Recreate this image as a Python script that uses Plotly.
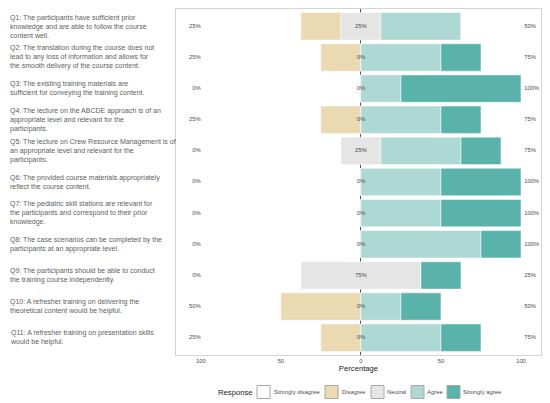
import plotly.graph_objects as go

# Likert responses (percent of respondents)
questions = ["Q1", "Q2", "Q3", "Q4", "Q5", "Q6", "Q7", "Q8", "Q9", "Q10", "Q11"]
labels = [
    "Q1: The participants have sufficient prior<br>knowledge and are able to follow the course<br>content well.",
    "Q2: The translation during the course does not<br>lead to any loss of information and allows for<br>the smooth delivery of the course content.",
    "Q3: The existing training materials are<br>sufficient for conveying the training content.",
    "Q4: The lecture on the ABCDE approach is of an<br>appropriate level and relevant for the<br>participants.",
    "Q5: The lecture on Crew Resource Management is of<br>an appropriate level and relevant for the<br>participants.",
    "Q6: The provided course materials appropriately<br>reflect the course content.",
    "Q7: The pediatric skill stations are relevant for<br>the participants and correspond to their prior<br>knowledge.",
    "Q8: The case scenarios can be completed by the<br>participants at an appropriate level.",
    "Q9: The participants should be able to conduct<br>the training course independently.",
    "Q10: A refresher training on delivering the<br>theoretical content would be helpful.",
    "Q11: A refresher training on presentation skills<br>would be helpful.",
]
strongly_disagree = [0, 0, 0, 0, 0, 0, 0, 0, 0, 0, 0]
disagree = [25, 25, 0, 25, 0, 0, 0, 0, 0, 50, 25]
neutral = [25, 0, 0, 0, 25, 0, 0, 0, 75, 0, 0]
agree = [50, 50, 25, 50, 50, 50, 50, 75, 0, 25, 50]
strongly_agree = [0, 25, 75, 25, 25, 50, 50, 25, 25, 25, 25]

responses = ["Strongly disagree", "Disagree", "Neutral", "Agree", "Strongly agree"]
colors = ["#FFFFFF", "#EBD9B1", "#E5E5E5", "#ADD8D4", "#5AB3AB"]

W, H = 542, 395
L, R, T, B = 168, 9, 1, 48
pw, ph = W - L - R, H - T - B

# bar starts: neutral split around zero
n_half = [n / 2 for n in neutral]
d_base = [-h - d for h, d in zip(n_half, disagree)]
sd_base = [b - s for b, s in zip(d_base, strongly_disagree)]
a_base = n_half
sa_base = [h + a for h, a in zip(n_half, agree)]

fig = go.Figure()
series = [
    (strongly_disagree, sd_base, 0),
    (disagree, d_base, 1),
    (neutral, [-h for h in n_half], 2),
    (agree, a_base, 3),
    (strongly_agree, sa_base, 4),
]
for vals, base, i in series:
    fig.add_trace(go.Bar(
        y=questions, x=vals, base=base, orientation="h", width=0.88,
        marker=dict(color=colors[i], line=dict(color="white", width=0.5)),
        name=responses[i], showlegend=False, hoverinfo="skip",
    ))

# percentage labels
left_pct = [s + d for s, d in zip(strongly_disagree, disagree)]
right_pct = [a + s for a, s in zip(agree, strongly_agree)]
lab_font = dict(size=5.9, color="#4D4D4D", family="Liberation Sans, Arial")
for xs, txt, pos in [(-100, left_pct, "middle left"), (0, neutral, "middle center"), (102, right_pct, "middle right")]:
    fig.add_trace(go.Scatter(y=questions, x=[xs] * len(questions), mode="text",
                             text=[f"{v}%" for v in txt], textposition=pos, textfont=lab_font,
                             cliponaxis=False, showlegend=False, hoverinfo="skip"))

px = lambda v: (v - L) / pw
py = lambda v: (H - B - v) / ph

# question labels, left aligned
for q, lab in zip(questions, labels):
    fig.add_annotation(x=px(0), xref="paper", y=q, yref="y", text=lab, showarrow=False,
                       xanchor="left", yanchor="middle", align="left",
                       font=dict(size=7, color="#606060", family="Liberation Sans, Arial"))

# legend drawn as keys below the axis (ggplot style)
key_x = [249, 317, 363, 403, 439]      # px from figure left
key_text_x = [266, 334, 379, 419, 455]
key_y = 384                             # px from figure top
key_size = 13
for i, r in enumerate(responses):
    fig.add_shape(type="rect", xref="paper", yref="paper",
                  x0=px(key_x[i]), x1=px(key_x[i] + key_size),
                  y0=py(key_y - key_size / 2), y1=py(key_y + key_size / 2),
                  fillcolor=colors[i], line=dict(color="#A8A8A8", width=1))
    fig.add_annotation(x=px(key_text_x[i] - 2), y=py(key_y), xref="paper", yref="paper", text=r,
                       showarrow=False, xanchor="left", yanchor="middle",
                       font=dict(size=5.9, color="#4D4D4D", family="Liberation Sans, Arial"))
fig.add_annotation(x=px(247), y=py(key_y), xref="paper", yref="paper", text="Response",
                   showarrow=False, xanchor="right", yanchor="middle",
                   font=dict(size=7.7, color="#1A1A1A", family="Liberation Sans, Arial"))

fig.update_layout(
    width=W, height=H,
    margin=dict(l=L, r=R, t=T, b=B),
    paper_bgcolor="white", plot_bgcolor="white",
    barmode="overlay", showlegend=False,
    font=dict(family="Liberation Sans, Arial", color="#4D4D4D"),
    xaxis=dict(range=[-115.5, 112.5], tickvals=[-100, -50, 0, 50, 100],
               ticktext=["100", "50", "0", "50", "100"], tickfont=dict(size=5.8, color="#4D4D4D"),
               showgrid=False, zeroline=True, zerolinecolor="#555555", zerolinewidth=1,
               showline=True, mirror=True, linecolor="#D4D4D4", linewidth=1, ticks="",
               automargin=False,
               title=dict(text="Percentage", font=dict(size=7.7, color="#1A1A1A"), standoff=2)),
    yaxis=dict(categoryorder="array", categoryarray=questions, autorange="reversed",
               showticklabels=False, showgrid=False, showline=True, mirror=True,
               linecolor="#D4D4D4", linewidth=1, ticks=""),
)

fig.write_html("out.html")
